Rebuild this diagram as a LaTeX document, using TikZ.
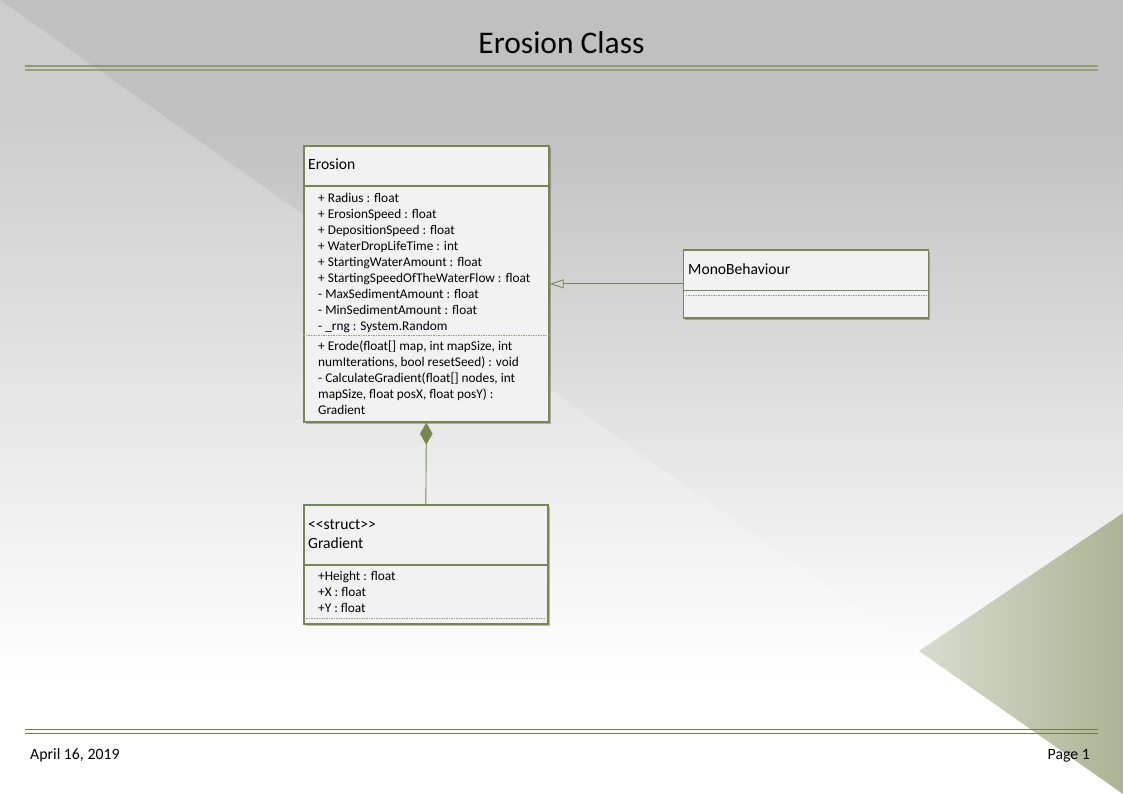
\documentclass[tikz,border=0pt]{standalone}
\usepackage{fontspec}
\setmainfont{Carlito}
\usepackage{tikz}
\usetikzlibrary{arrows.meta,shadows}
\definecolor{umlgreen}{RGB}{118,136,80}
\definecolor{boxfill}{RGB}{242,242,242}
\definecolor{bggray}{RGB}{192,192,192}
\definecolor{headgreen}{RGB}{141,155,109}
\definecolor{headgray}{RGB}{152,160,134}
\definecolor{footgreen}{RGB}{111,124,78}
\definecolor{wedgeL}{RGB}{216,220,206}
\definecolor{wedgeR}{RGB}{171,180,148}
\tikzset{
  classbox/.style={draw=umlgreen,line width=1.7pt,fill=boxfill,inner sep=0pt,anchor=north west,
    drop shadow={shadow xshift=2pt,shadow yshift=-2.5pt,fill=black,opacity=0.25}},
  classname/.style={anchor=base west,inner sep=0pt,font=\fontsize{15.6}{19}\selectfont},
  member/.style={anchor=base west,inner sep=0pt,font=\fontsize{13.3}{16}\selectfont},
  divider/.style={draw=umlgreen,line width=1.7pt},
  slotline/.style={draw=umlgreen!55!gray!80,line width=0.8pt,dash pattern=on 1.5pt off 1pt},
  assoc/.style={draw=umlgreen,line width=0.9pt}
}
\begin{document}
\begin{tikzpicture}[x=1pt,y=-1pt]
      \useasboundingbox (0,0) rectangle (1123,794);
      \fill[bggray] (0,0) rectangle (1123,121);
      \shade[top color=bggray,bottom color=white] (0,120) rectangle (1123,680);
      \fill[white] (0,679) rectangle (1123,794);
      \fill[white,opacity=0.22] (0,0) -- (919,651) -- (714,794) -- (0,794) -- cycle;
      \shade[left color=wedgeL,right color=wedgeR] (1123,513) -- (919,651) -- (1123,794) -- cycle;
      \draw[headgreen,line width=1.2pt] (25,66) -- (1098,66);
      \draw[headgray,line width=1.8pt] (25,69.8) -- (1098,69.8);
      \draw[footgreen,line width=1.2pt] (25,729.4) -- (1098,729.4);
      \draw[footgreen,line width=1.2pt] (25,733.4) -- (1098,733.4);
      \node[font=\fontsize{31.5}{36}\selectfont,anchor=base,inner sep=0pt] (title) at (561.5,53.3) {Erosion Class};
      \node[font=\fontsize{15.8}{18}\selectfont,anchor=base west,inner sep=0pt] (date) at (30,759) {April 16, 2019};
      \node[font=\fontsize{15.8}{18}\selectfont,anchor=base east,inner sep=0pt] (page) at (1090,759) {Page 1};

      \node[classbox,minimum width=245pt,minimum height=276pt] (erosion) at (303,145) {};
      \node[classbox,minimum width=245pt,minimum height=68pt] (mono) at (682.5,249) {};
      \node[classbox,minimum width=244pt,minimum height=119pt] (gradient) at (303,504) {};

      \draw[divider] ([yshift=-41pt]erosion.north west) -- ([yshift=-41pt]erosion.north east);
      \draw[slotline] ([yshift=-190pt]erosion.north west) -- ([yshift=-190pt]erosion.north east);
      \draw[divider] ([yshift=-41.5pt]mono.north west) -- ([yshift=-41.5pt]mono.north east);
      \draw[slotline] ([xshift=3pt,yshift=-46.5pt]mono.north west) -- ([xshift=-3pt,yshift=-46.5pt]mono.north east);
      \draw[divider] ([yshift=-61pt]gradient.north west) -- ([yshift=-61pt]gradient.north east);
      \draw[slotline] ([xshift=3pt,yshift=-114pt]gradient.north west) -- ([xshift=-3pt,yshift=-114pt]gradient.north east);

      \node[classname] (erosion-name) at (308,170) {Erosion};
      \foreach \txt [count=\i] in {{+ Radius : float},{+ ErosionSpeed : float},{+ DepositionSpeed : float},
        {+ WaterDropLifeTime : int},{+ StartingWaterAmount : float},{+ StartingSpeedOfTheWaterFlow : float},
        {- MaxSedimentAmount : float},{- MinSedimentAmount : float},{- \_rng : System.Random}}{
        \node[member] (erosion-a\i) at (318,186.5+16*\i) {\txt};
      }
      \foreach \txt [count=\i] in {{+ Erode(float[] map, int mapSize, int},{numIterations, bool resetSeed) : void},
        {- CalculateGradient(float[] nodes, int},{mapSize, float posX, float posY) :},{Gradient}}{
        \node[member] (erosion-o\i) at (318,334+16*\i) {\txt};
      }
      \node[classname] (mono-name) at (688,274) {MonoBehaviour};
      \node[classname] (gradient-stereo) at (308,529) {<\kern0pt<struct>\kern0pt>};
      \node[classname] (gradient-name) at (308,548.3) {Gradient};
      \foreach \txt [count=\i] in {{+Height : float},{+X : float},{+Y : float}}{
        \node[member] (gradient-a\i) at (318,564+16*\i) {\txt};
      }

      \draw[assoc,-{Triangle[open,length=14pt,width=9pt]}] (mono.west) -- (erosion.east);
      \draw[assoc,-{Diamond[length=22pt,width=12.6pt]}] (gradient.north) -- (erosion.south);
    \end{tikzpicture}
\end{document}
